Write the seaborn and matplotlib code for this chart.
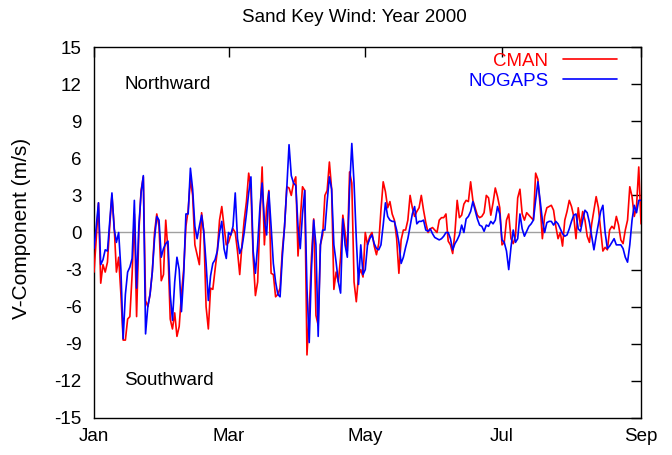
import numpy as np
import pandas as pd
import matplotlib
matplotlib.use("Agg")
import matplotlib.pyplot as plt
import seaborn as sns

# Day of year 2000 (0 = Jan 1) ; daily V-component (m/s)
cman = [
 -3.2,-0.5,2.4,-4.1,-2.6,-3.2,-2.4,0.5,3.0,0.5,
 -3.2,-2.0,-5.0,-8.7,-8.7,-7.0,-6.8,-3.4,1.5,-6.8,
 0.0,3.4,4.5,-5.5,-6.0,-5.0,-3.2,0.0,1.5,0.5,
 -3.9,-3.4,1.0,-1.5,-7.0,-7.8,-6.5,-8.4,-7.6,-5.0,
 -3.0,0.5,1.8,4.3,3.0,-1.0,-1.8,-2.6,1.6,0.0,
 -6.0,-7.8,-4.5,-4.6,-3.0,-1.5,1.0,2.1,0.5,-1.0,
 -0.8,-0.2,0.3,0.0,-1.5,-3.4,-1.0,1.0,2.5,4.8,
 3.5,-2.0,-5.1,-4.0,1.0,5.3,-1.0,2.0,3.4,-3.3,
 -3.4,-5.2,-5.0,-4.5,-1.5,0.5,3.7,3.6,3.0,4.0,
 4.5,-1.9,1.0,3.7,3.4,-9.9,-6.5,-2.0,1.1,-6.7,
 -7.5,-1.0,-0.2,3.0,3.4,5.7,3.5,-4.6,-3.2,-4.0,
 -2.0,1.4,0.0,-1.5,4.9,4.0,-4.0,-5.6,-3.5,-3.0,
 -3.6,0.0,-1.0,-0.3,0.0,-1.1,-1.8,-0.9,1.8,4.1,
 3.3,2.0,2.5,1.5,1.0,-0.5,-3.3,-0.6,0.2,0.2,
 1.0,3.0,2.0,1.3,1.7,2.0,3.0,1.8,0.8,0.0,
 0.3,0.4,0.2,0.0,1.0,1.2,1.2,1.5,-0.7,-1.0,
 -1.7,0.0,2.6,1.2,1.4,2.3,2.6,2.5,4.1,2.6,
 2.0,1.4,1.2,1.3,1.6,3.0,2.8,1.4,2.4,3.6,
 2.9,2.0,-1.0,-0.8,1.0,1.5,-0.5,-0.9,-0.3,2.8,
 3.5,1.5,1.0,1.6,1.4,1.2,1.0,4.8,4.3,2.2,
 -0.5,1.3,2.0,2.1,2.2,1.8,0.5,-0.5,0.0,-1.1,
 1.0,1.7,2.6,2.1,1.3,-0.5,2.0,0.5,1.7,1.0,
 -0.3,-0.8,0.7,1.8,2.9,2.0,0.2,-1.5,-1.2,-1.4,
 0.2,0.5,0.3,1.3,0.6,-0.6,-0.9,0.2,1.0,3.7,
 2.9,1.3,2.1,5.3,0.7,
]
nogaps = [
 -1.3,0.5,2.4,-2.6,-2.2,-1.4,-1.5,0.8,3.2,0.3,
 -0.8,0.0,-3.0,-8.6,-5.0,-3.2,-2.8,-2.1,2.6,-4.5,
 0.5,3.2,4.6,-8.2,-6.0,-5.0,-3.2,-0.5,1.3,1.0,
 -2.0,-1.3,-0.9,-0.7,-5.0,-7.1,-4.0,-2.0,-3.0,-6.4,
 -3.5,1.5,1.5,5.2,3.5,0.5,-0.5,0.5,1.4,0.0,
 -2.5,-5.5,-3.5,-2.5,-2.2,-1.5,0.0,0.9,-1.3,-2.1,
 0.0,-0.2,0.5,3.2,-0.5,-1.7,-1.2,0.0,1.5,3.2,
 4.5,-1.5,-3.3,-1.0,2.0,4.0,1.0,-0.2,3.3,0.5,
 -2.5,-4.0,-5.0,-5.2,-2.0,0.5,3.6,7.1,4.6,4.0,
 3.8,0.5,-1.3,1.5,3.4,-4.5,-8.9,-3.0,1.0,-1.0,
 -8.4,-1.0,0.2,0.2,2.5,4.5,3.5,-1.0,-2.4,-4.0,
 -4.9,1.1,-1.0,-2.0,3.5,7.2,4.0,-0.5,-4.2,-1.0,
 -3.4,-3.0,-1.0,-0.5,-0.2,-0.9,-1.3,-1.4,-1.0,0.6,
 2.4,1.3,1.0,0.9,0.9,0.2,-0.8,-2.5,-2.0,-1.2,
 -0.5,0.5,1.5,2.1,0.7,0.9,0.9,1.0,0.2,0.1,
 0.3,-0.1,-0.4,-0.5,-0.6,-0.5,-0.3,0.0,0.0,-0.5,
 -1.4,-0.9,-0.6,-0.2,0.6,0.0,1.1,1.3,1.7,2.5,
 1.8,1.1,0.6,0.5,0.1,0.6,0.5,0.9,0.7,1.0,
 2.1,1.5,-0.6,-0.8,-1.5,-3.0,-1.2,0.2,-0.8,-0.5,
 1.5,0.3,-0.3,0.1,0.5,0.7,1.0,2.6,4.1,2.6,
 1.0,0.0,0.8,0.9,0.9,0.6,0.9,0.7,0.3,-0.1,
 -0.3,-0.2,0.3,0.9,1.4,1.5,0.3,0.1,1.0,1.8,
 1.6,0.8,-0.3,-1.4,-0.3,0.7,1.7,2.2,0.0,-1.3,
 -1.1,-0.8,-0.5,-1.0,-1.0,-1.0,-1.3,-2.0,-2.4,-1.0,
 1.0,2.2,1.6,2.6,2.6,
]
days = list(range(len(cman)))

month_ticks = [0, 60, 121, 182, 244]
month_labels = ["Jan", "Mar", "May", "Jul", "Sep"]
y_ticks = list(range(-15, 16, 3))

df = pd.concat([
    pd.DataFrame({"day": days, "v": cman, "series": "CMAN"}),
    pd.DataFrame({"day": days, "v": nogaps, "series": "NOGAPS"}),
])

sns.set_style("white")
plt.rcParams["font.family"] = ["Liberation Sans", "DejaVu Sans"]
plt.rcParams["axes.unicode_minus"] = False
plt.rcParams["text.color"] = "black"
FS = 13.5

fig = plt.figure(figsize=(6.72, 4.55), dpi=100)
ax = fig.add_axes([94/672, 1-418/455, (641-94)/672, (418-47)/455])

ax.axhline(0, color="#a0a0a0", lw=1.0, zorder=1)
sns.lineplot(data=df, x="day", y="v", hue="series",
             hue_order=["CMAN", "NOGAPS"],
             palette={"CMAN": "#ff0000", "NOGAPS": "#0000ff"},
             estimator=None, lw=1.2, ax=ax, legend=False, zorder=3)

ax.set_xlim(0, 244)
ax.set_ylim(-15, 15)
ax.set_xticks(month_ticks)
ax.set_xticklabels(month_labels)
ax.set_yticks(y_ticks)
ax.set_xlabel("")
ax.set_ylabel("")
ax.tick_params(direction="in", length=7, width=1, top=True, right=True,
               labelsize=FS, colors="black")
ax.tick_params(axis="y", pad=9)
ax.tick_params(axis="x", pad=7)
for s in ax.spines.values():
    s.set_visible(True)
    s.set_color("black")
    s.set_linewidth(1.0)

from matplotlib.lines import Line2D
handles = [Line2D([], [], color="#ff0000", lw=1.2),
           Line2D([], [], color="#0000ff", lw=1.2)]
leg = ax.legend(handles, ["CMAN", "NOGAPS"], loc="upper right",
                bbox_to_anchor=(0.956, 0.985), frameon=False,
                markerfirst=False, fontsize=FS, handlelength=2.9,
                handletextpad=0.75, labelspacing=0.15, borderpad=0,
                borderaxespad=0, labelcolor="linecolor")

ax.text(13.4, 12.0, "Northward", fontsize=FS, ha="left", va="center",
        color="black")
ax.text(13.4, -12.0, "Southward", fontsize=FS, ha="left", va="center",
        color="black")

fig.text(354/672, 1-17/455, "Sand Key Wind: Year 2000", fontsize=FS,
         ha="center", va="center", color="black")
fig.text(22/672, 1-228/455, "V-Component (m/s)", fontsize=FS+1.5,
         rotation=90, ha="center", va="center", color="black")

fig.savefig("out.png", dpi=100)
